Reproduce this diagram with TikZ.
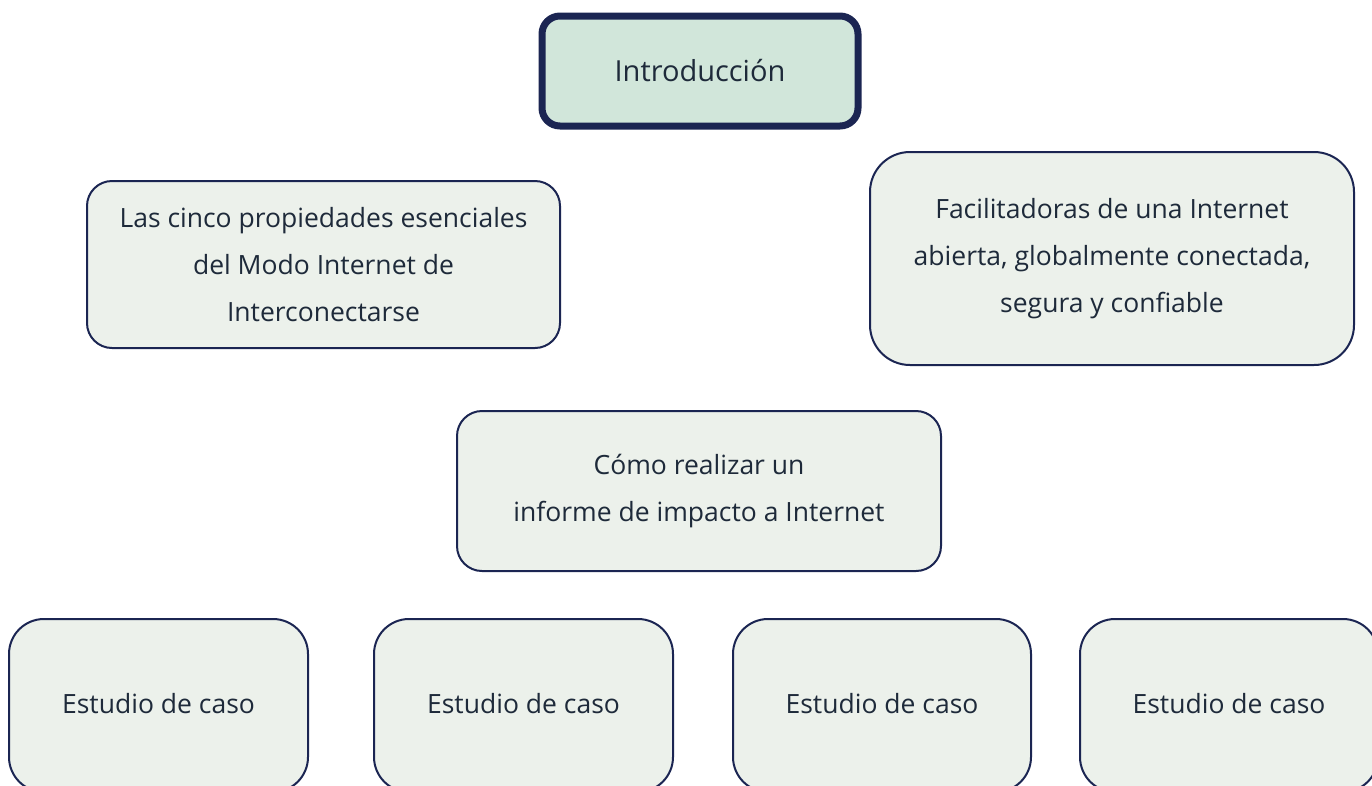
\documentclass[tikz,border=0pt]{standalone}
\usepackage{fontspec}
\setmainfont{Open Sans}
\definecolor{navy}{HTML}{1B2552}
\definecolor{lightfill}{HTML}{ECF1EB}
\definecolor{introfill}{HTML}{D1E6DA}
\definecolor{txt}{HTML}{1E2A3A}
\begin{document}
\begin{tikzpicture}[x=1pt,y=-1pt,
  box/.style={draw=navy,fill=lightfill,line width=2pt,text=txt,align=center,
    font=\fontsize{26.5}{47}\selectfont,inner sep=0pt},
  casebox/.style={box,rounded corners=35pt,minimum height=173pt},
  ]
\useasboundingbox (0,0) rectangle (1372,785);
\node[box,line width=7pt,fill=introfill,rounded corners=18pt,minimum width=316pt,minimum height=110pt,font=\fontsize{29}{35}\selectfont] (intro) at (700,71) {\raisebox{2pt}{Introducción}};
\node[box,rounded corners=25pt,minimum width=473pt,minimum height=167pt] (cinco) at (323.5,264.5) {Las cinco propiedades esenciales\\del Modo Internet de\\Interconectarse};
\node[box,rounded corners=40pt,minimum width=484pt,minimum height=213pt] (facil) at (1112,258.5) {Facilitadoras de una Internet\\abierta, globalmente conectada,\\segura y confiable};
\node[box,rounded corners=25pt,minimum width=484pt,minimum height=160pt] (como) at (699,491) {Cómo realizar un\\informe de impacto a Internet};
\node[casebox,minimum width=299pt] (c1) at (158.5,705.5) {\raisebox{3.5pt}{Estudio de caso}};
\node[casebox,minimum width=299pt] (c2) at (523.5,705.5) {\raisebox{3.5pt}{Estudio de caso}};
\node[casebox,minimum width=298pt] (c3) at (882,705.5) {\raisebox{3.5pt}{Estudio de caso}};
\node[casebox,minimum width=298pt] (c4) at (1229,705.5) {\raisebox{3.5pt}{Estudio de caso}};
\end{tikzpicture}
\end{document}
